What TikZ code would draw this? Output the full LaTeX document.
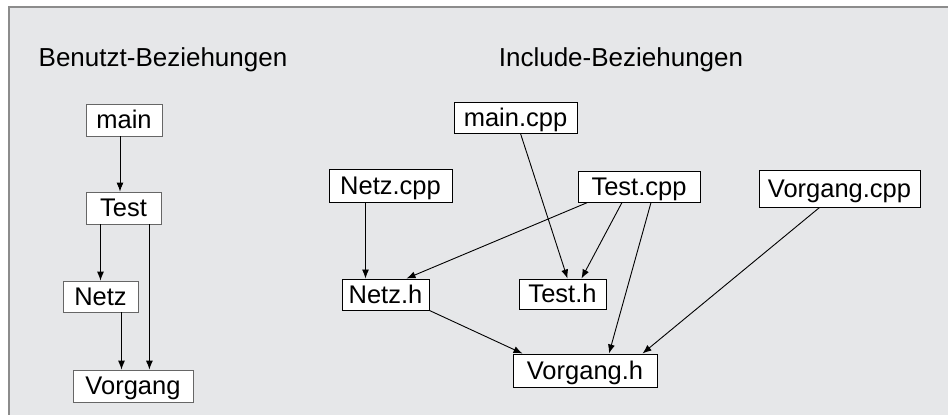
\documentclass[tikz,border=0pt]{standalone}
\usepackage{fontspec}
\setmainfont{Liberation Sans}
\usetikzlibrary{arrows.meta}
\definecolor{panel}{RGB}{230,231,233}
\definecolor{rim}{RGB}{140,140,140}
\tikzset{
  big/.style={font=\fontsize{26}{31}\selectfont},
  box/.style={font=\fontsize{25.5}{30}\selectfont,draw=black,line width=1pt,fill=white,inner sep=0pt,text height=18pt,text depth=1pt},
  ubox/.style={box,draw=black!60,line width=0.8pt},
  arr/.style={-{Latex[length=9pt,width=7pt]},line width=0.9pt},
}

\begin{document}
\begin{tikzpicture}[x=1pt,y=-1pt]
    \useasboundingbox (0,0) rectangle (948,415);
    \fill[panel] (9,7) rectangle (948,415);
    \draw[rim,line width=1.2pt] (9,415) -- (9,7) -- (948,7);
    % titles
    \node[big,anchor=base] (utitle) at (163,66) {Benutzt-Beziehungen};
    \node[big,anchor=base] (ititle) at (621,66) {Include-Beziehungen};
    % Benutzt-Beziehungen
    \node[ubox,minimum width=76pt,minimum height=32pt] (main) at (124,120) {main};
    \node[ubox,minimum width=75pt,minimum height=32pt] (test) at (123.5,208) {Test};
    \node[ubox,minimum width=75pt,minimum height=31pt] (netz) at (100.5,296.5) {Netz};
    \node[ubox,minimum width=120pt,minimum height=32pt] (vorgang) at (133,386) {Vorgang};
    \draw[arr] ([xshift=-4pt]main.south) -- ([xshift=-4pt]main.south |- test.north);
    \draw[arr] (test.south -| netz.north) -- (netz.north);
    \draw[arr] ([xshift=-12pt]test.south east) -- ([xshift=-12pt]test.south east |- vorgang.north);
    \draw[arr] ([xshift=21pt]netz.south) -- ([xshift=21pt]netz.south |- vorgang.north);
    % Include-Beziehungen
    \node[box,minimum width=123pt,minimum height=31pt] (maincpp) at (515.5,117.5) {main.cpp};
    \node[box,minimum width=123pt,minimum height=33pt] (netzcpp) at (390.5,185.5) {Netz.cpp};
    \node[box,minimum width=122pt,minimum height=31pt] (testcpp) at (639,186.5) {Test.cpp};
    \node[box,minimum width=161pt,minimum height=37pt] (vorgangcpp) at (839.5,188.5) {Vorgang.cpp};
    \node[box,minimum width=87pt,minimum height=31pt] (netzh) at (385.5,294.5) {Netz.h};
    \node[box,minimum width=87pt,minimum height=30pt] (testh) at (562.5,294) {Test.h};
    \node[box,minimum width=144pt,minimum height=33pt] (vorgangh) at (585,370.5) {Vorgang.h};
    \draw[arr] ([xshift=-25pt]netzcpp.south) -- ([xshift=-25pt]netzcpp.south |- netzh.north);
    \draw[arr] ([xshift=5pt]maincpp.south) -- ([xshift=5pt]testh.north);
    \draw[arr] ([xshift=10pt]testcpp.south west) -- ([xshift=21pt]netzh.north);
    \draw[arr] ([xshift=-17pt]testcpp.south) -- ([xshift=19pt]testh.north);
    \draw[arr] ([xshift=12pt]testcpp.south) -- ([xshift=24pt]vorgangh.north);
    \draw[arr] ([xshift=-20pt]vorgangcpp.south) -- ([xshift=-15pt]vorgangh.north east);
    \draw[arr] (netzh.south east) -- ([xshift=10pt]vorgangh.north west);
\end{tikzpicture}
\end{document}
